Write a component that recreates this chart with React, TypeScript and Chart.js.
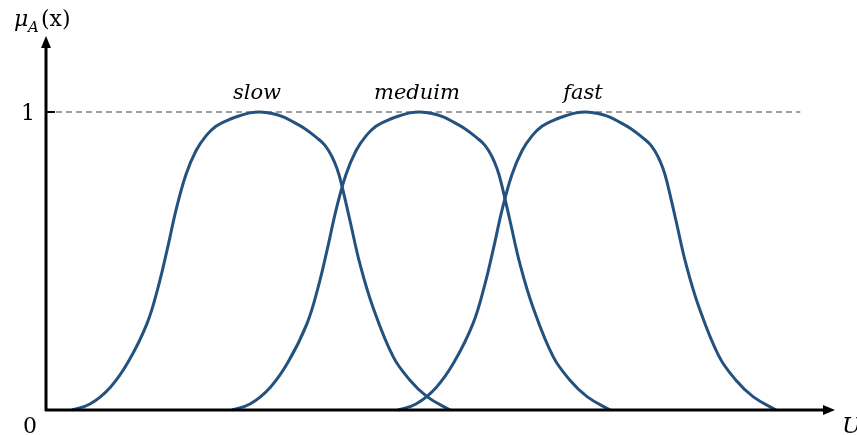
import { useEffect, useRef } from "react";
import { Chart, registerables } from "chart.js";

Chart.register(...registerables);

// Universe of discourse U (abstract units, 0..100) and membership values
const slowX = [3.29, 5.57, 8.11, 10.39, 12.8, 14.19, 15.46, 16.47, 17.74, 19.01, 20.28, 21.54, 23.06, 24.59, 25.85, 27.12, 28.64, 29.91, 31.3, 32.82, 34.34, 35.36, 36.25, 36.88, 37.39, 38.53, 39.79, 41.44, 43.98, 46.13, 48.29, 51.2];
const mediumX = [23.57, 25.85, 28.39, 30.67, 33.08, 34.47, 35.74, 36.75, 38.02, 39.29, 40.56, 41.82, 43.34, 44.87, 46.13, 47.4, 48.92, 50.19, 51.58, 53.1, 54.62, 55.64, 56.53, 57.16, 57.67, 58.81, 60.07, 61.72, 64.26, 66.41, 68.57, 71.48];
const fastX = [44.61, 46.89, 49.43, 51.71, 54.12, 55.51, 56.78, 57.79, 59.06, 60.33, 61.6, 62.86, 64.38, 65.91, 67.17, 68.44, 69.96, 71.23, 72.62, 74.14, 75.66, 76.68, 77.57, 78.2, 78.71, 79.85, 81.11, 82.76, 85.3, 87.45, 89.61, 92.52];
const membership = [0, 0.02, 0.075, 0.16, 0.29, 0.41, 0.55, 0.67, 0.79, 0.87, 0.92, 0.952, 0.973, 0.988, 0.997, 1, 0.995, 0.985, 0.967, 0.944, 0.913, 0.888, 0.85, 0.81, 0.765, 0.635, 0.49, 0.345, 0.18, 0.1, 0.045, 0];

const setNames = ["slow", "meduim", "fast"];
const setCenters = [27.12, 47.4, 68.44];
const yTickLabels = ["0", "1"];
const dashedEndX = 95.6;

const LINE_COLOR = "#23527f";
const SERIF = "'DejaVu Serif', 'Liberation Serif', serif";

const toPoints = (xs: number[]) => xs.map((x, i) => ({ x, y: membership[i] }));

const fuzzyPlugin = {
  id: "fuzzyAxes",
  beforeDatasetsDraw(chart: any) {
    const { ctx, scales } = chart;
    const xs = scales.x;
    const ys = scales.y;
    const x0 = xs.getPixelForValue(0);
    const y1 = ys.getPixelForValue(1);
    ctx.save();
    ctx.strokeStyle = "#808080";
    ctx.lineWidth = 1.5;
    ctx.setLineDash([6, 4]);
    ctx.beginPath();
    ctx.moveTo(x0, y1);
    ctx.lineTo(xs.getPixelForValue(dashedEndX), y1);
    ctx.stroke();
    ctx.restore();
  },
  afterDatasetsDraw(chart: any) {
    const { ctx, scales, chartArea } = chart;
    const xs = scales.x;
    const ys = scales.y;
    const x0 = xs.getPixelForValue(0);
    const y0 = ys.getPixelForValue(0);
    const y1 = ys.getPixelForValue(1);
    ctx.save();
    ctx.strokeStyle = "#000";
    ctx.fillStyle = "#000";
    ctx.lineWidth = 3;
    ctx.setLineDash([]);
    // y axis
    ctx.beginPath();
    ctx.moveTo(x0, y0 + 1);
    ctx.lineTo(x0, chartArea.top + 10);
    ctx.stroke();
    ctx.beginPath();
    ctx.moveTo(x0, chartArea.top);
    ctx.lineTo(x0 - 5, chartArea.top + 12);
    ctx.lineTo(x0 + 5, chartArea.top + 12);
    ctx.closePath();
    ctx.fill();
    // x axis
    ctx.beginPath();
    ctx.moveTo(x0 - 1, y0);
    ctx.lineTo(chartArea.right - 10, y0);
    ctx.stroke();
    ctx.beginPath();
    ctx.moveTo(chartArea.right, y0);
    ctx.lineTo(chartArea.right - 12, y0 - 5);
    ctx.lineTo(chartArea.right - 12, y0 + 5);
    ctx.closePath();
    ctx.fill();
    // tick at 1
    ctx.lineWidth = 2;
    ctx.beginPath();
    ctx.moveTo(x0, y1);
    ctx.lineTo(x0 + 9, y1);
    ctx.stroke();

    // tick labels
    ctx.font = `22px ${SERIF}`;
    ctx.textAlign = "center";
    ctx.textBaseline = "middle";
    ctx.fillText(yTickLabels[1], x0 - 18, y1 + 2);
    ctx.fillText(yTickLabels[0], x0 - 16, y0 + 17);

    // set names
    ctx.font = `italic 21px ${SERIF}`;
    ctx.textBaseline = "alphabetic";
    setNames.forEach((name, i) => {
      ctx.fillText(name, xs.getPixelForValue(setCenters[i]) - 3, y1 - 13);
    });

    // axis titles
    ctx.textAlign = "left";
    ctx.font = `italic 23px ${SERIF}`;
    ctx.fillText("U", chartArea.right + 7, y0 + 23);
    ctx.font = `italic 22px ${SERIF}`;
    ctx.fillText("\u03bc", 14, 26);
    ctx.font = `italic 15px ${SERIF}`;
    ctx.fillText("A", 28, 32);
    ctx.font = `22px ${SERIF}`;
    ctx.fillText("(x)", 41, 26);
    ctx.restore();
  },
};

export default function App() {
  const ref = useRef<HTMLCanvasElement | null>(null);
  useEffect(() => {
    document.body.style.margin = "0";
    if (!ref.current) return;
    const common = {
      borderColor: LINE_COLOR,
      borderWidth: 3,
      pointRadius: 0,
      tension: 0.4,
      fill: false,
      clip: false as any,
    };
    const chart = new Chart(ref.current, {
      type: "line",
      data: {
        datasets: [
          { label: setNames[0], data: toPoints(slowX), ...common },
          { label: setNames[1], data: toPoints(mediumX), ...common },
          { label: setNames[2], data: toPoints(fastX), ...common },
        ],
      },
      options: {
        animation: false,
        responsive: true,
        maintainAspectRatio: false,
        layout: { padding: { left: 46, right: 22, top: 36, bottom: 25 } },
        scales: {
          x: { type: "linear", min: 0, max: 100, display: false },
          y: { type: "linear", min: 0, max: 1.255, display: false },
        },
        plugins: { legend: { display: false }, tooltip: { enabled: false } },
      },
      plugins: [fuzzyPlugin],
    });
    return () => chart.destroy();
  }, []);
  return (
    <div style={{ width: 857, height: 435, position: "relative", background: "#fff" }}>
      <canvas ref={ref} />
    </div>
  );
}
